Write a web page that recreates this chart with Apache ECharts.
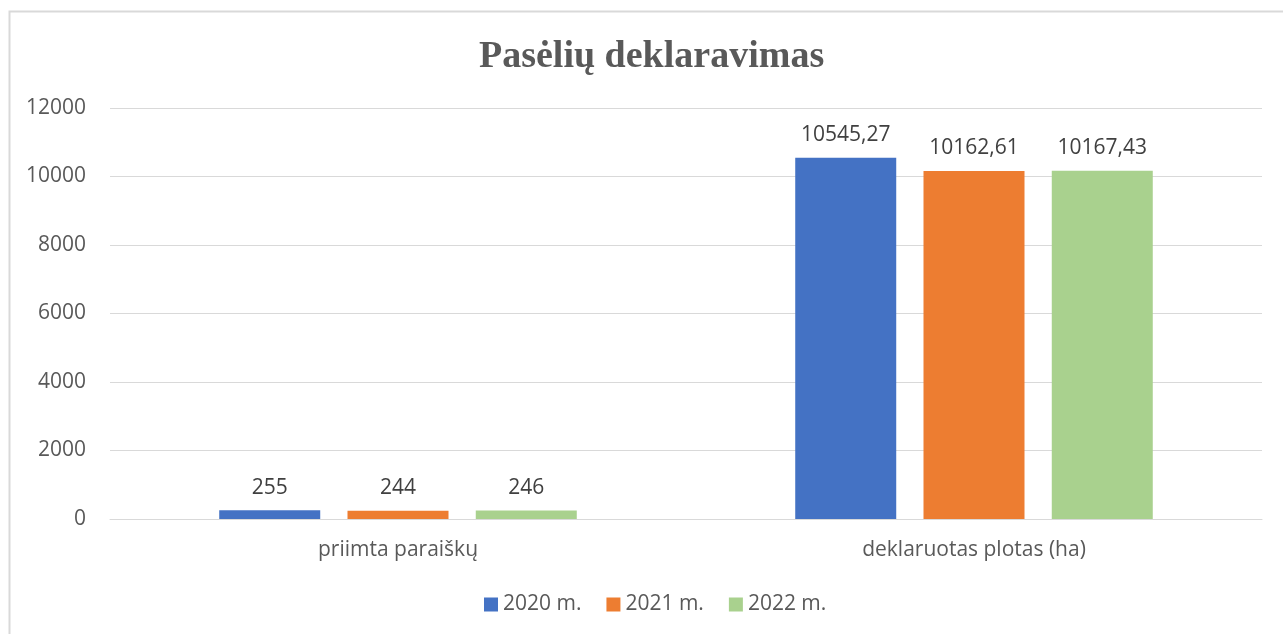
<!DOCTYPE html>
<html>
<head>
<meta charset="utf-8">
<script src="https://cdn.jsdelivr.net/npm/echarts@6/dist/echarts.min.js"></script>
<style>
html,body{margin:0;padding:0;background:#fff;}
#chart{width:1283px;height:634px;}
</style>
</head>
<body>
<div id="chart"></div>
<script>
const categories = ['priimta paraiškų', 'deklaruotas plotas (ha)'];
const seriesNames = ['2020 m.', '2021 m.', '2022 m.'];
const values2020 = [255, 10545.27];
const values2021 = [244, 10162.61];
const values2022 = [246, 10167.43];
const colors = ['#4472C4', '#ED7D31', '#A9D18E'];
const yTicks = { min: 0, max: 12000, interval: 2000 };

const chart = echarts.init(document.getElementById('chart'));
const font = "'Open Sans', 'Liberation Sans', sans-serif";
const allValues = [values2020, values2021, values2022];

const series = seriesNames.map((name, i) => ({
  name: name,
  type: 'bar',
  data: allValues[i],
  barWidth: 101,
  barGap: '27%',
  itemStyle: { color: colors[i] },
  label: {
    show: true,
    position: 'top',
    distance: 12,
    color: '#404040',
    fontFamily: font,
    fontSize: 21,
    formatter: p => String(p.value).replace('.', ',')
  }
}));

chart.setOption({
  animation: false,
  backgroundColor: '#fff',
  color: colors,
  title: {
    text: 'Pasėlių deklaravimas',
    left: 479,
    top: 38,
    padding: 0,
    textStyle: {
      fontFamily: "'Liberation Serif', 'Times New Roman', serif",
      fontWeight: 'bold',
      fontSize: 38,
      color: '#595959'
    }
  },
  graphic: [{
    type: 'rect',
    shape: { x: 9.5, y: 11.5, width: 1300, height: 700 },
    style: { fill: 'none', stroke: '#d9d9d9', lineWidth: 2 },
    silent: true,
    z: -1
  }],
  legend: {
    data: seriesNames,
    left: 484,
    top: 594,
    padding: 0,
    itemWidth: 14,
    itemHeight: 14,
    itemGap: 25,
    icon: 'rect',
    textStyle: { fontFamily: font, fontSize: 21, color: '#595959' }
  },
  grid: { left: 110, right: 21, top: 108, bottom: 115, containLabel: false },
  xAxis: {
    type: 'category',
    data: categories,
    axisLine: { show: true, lineStyle: { color: '#d9d9d9', width: 1 } },
    axisTick: { show: false },
    axisLabel: { color: '#595959', fontFamily: font, fontSize: 21, margin: 21 }
  },
  yAxis: {
    type: 'value',
    min: yTicks.min,
    max: yTicks.max,
    interval: yTicks.interval,
    axisLine: { show: false },
    axisTick: { show: false },
    splitLine: { lineStyle: { color: '#d9d9d9', width: 1 } },
    axisLabel: { color: '#595959', fontFamily: font, fontSize: 21, margin: 24, formatter: v => String(v) }
  },
  series: series
});
</script>
</body>
</html>
